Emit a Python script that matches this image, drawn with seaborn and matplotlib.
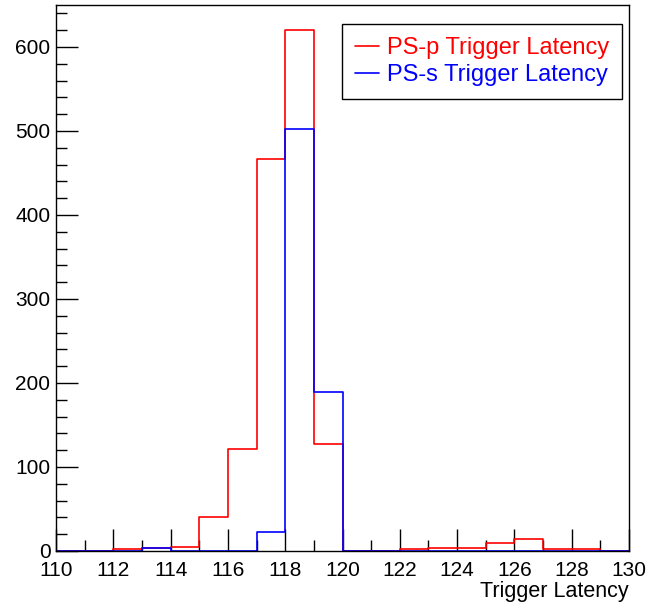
import numpy as np
import pandas as pd
import seaborn as sns
import matplotlib
matplotlib.use("Agg")
import matplotlib.pyplot as plt
from matplotlib.lines import Line2D
from matplotlib.ticker import MultipleLocator

# Bin left edges (integer bins 110..129)
bin_edges = list(range(110, 131))
bin_lefts = list(range(110, 130))
ps_p_counts = [0, 0, 2, 3, 5, 40, 122, 467, 620, 127, 0, 0, 2, 3, 4, 9, 14, 2, 2, 0]
ps_s_counts = [0, 0, 0, 4, 0, 0, 0, 23, 502, 189, 0, 0, 0, 0, 0, 0, 0, 0, 0, 0]
labels = ["PS-p Trigger Latency", "PS-s Trigger Latency"]
colors = ["#ff0000", "#0000ff"]

sns.set_style("white")
plt.rcParams["font.family"] = ["Liberation Sans", "DejaVu Sans"]
for k in ["text.color", "axes.labelcolor", "xtick.color", "ytick.color"]:
    plt.rcParams[k] = "black"

fig = plt.figure(figsize=(6.49, 6.02), dpi=100)
ax = fig.add_axes([56/649, 1-551/602, (629-56)/649, (551-5)/602])

centers = [b + 0.5 for b in bin_lefts]
for counts, col in zip([ps_p_counts, ps_s_counts], colors):
    df = pd.DataFrame({"x": centers, "w": counts})
    sns.histplot(data=df, x="x", weights="w", bins=bin_edges, element="step",
                 fill=False, color=col, linewidth=1.2, ax=ax)

ax.set_xlim(110, 130)
ax.set_ylim(0, 650)
ax.xaxis.set_major_locator(MultipleLocator(2))
ax.xaxis.set_minor_locator(MultipleLocator(1))
ax.yaxis.set_major_locator(MultipleLocator(100))
ax.yaxis.set_minor_locator(MultipleLocator(20))
ax.tick_params(axis="both", which="major", direction="in", length=16, width=1,
               labelsize=15, color="black")
ax.tick_params(axis="both", which="minor", direction="in", length=8, width=1, color="black")
ax.tick_params(axis="x", which="both", bottom=True, top=False, pad=7)
ax.tick_params(axis="y", which="both", left=True, right=False, pad=4)
for s in ax.spines.values():
    s.set_color("black")
    s.set_linewidth(1.0)
ax.set_ylabel("")
ax.set_xlabel("Trigger Latency", fontsize=15.5, loc="right", labelpad=1)

handles = [Line2D([0], [0], color=c, lw=1.2) for c in colors]
leg = ax.legend(handles, labels, loc="upper right", bbox_to_anchor=(622/649, 1-24/602),
                bbox_transform=fig.transFigure, fontsize=17, labelcolor=colors,
                frameon=True, fancybox=False, edgecolor="black", framealpha=1,
                handlelength=1.0, handletextpad=0.35, borderpad=0.55, labelspacing=0.22,
                borderaxespad=0)
leg.get_frame().set_linewidth(1.0)

fig.savefig("out.png", dpi=100)
